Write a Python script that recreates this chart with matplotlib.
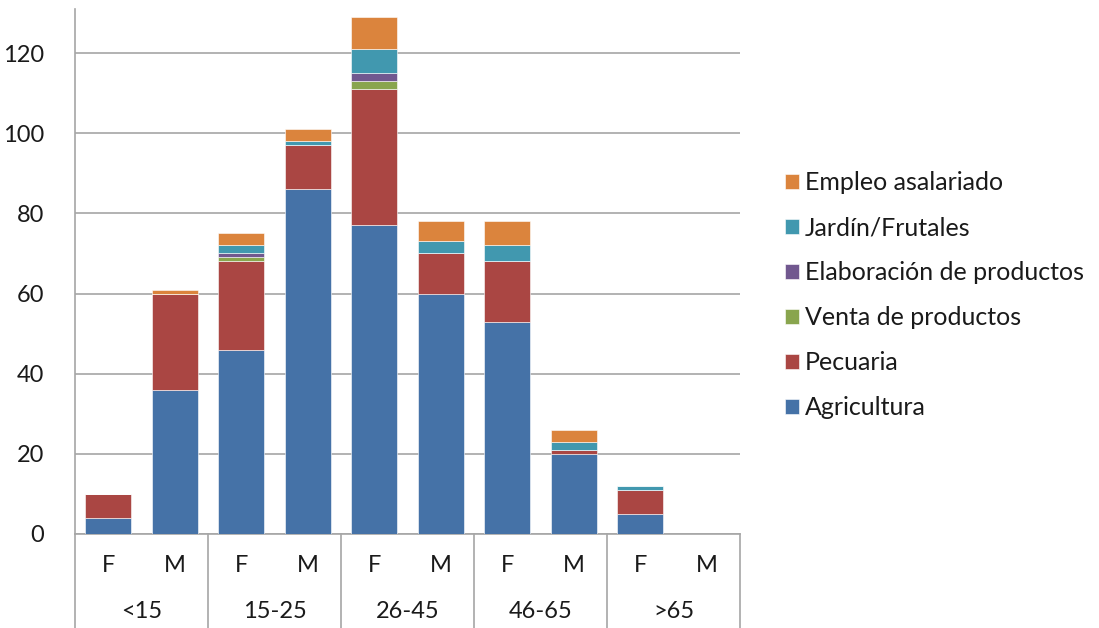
import matplotlib

matplotlib.use("Agg")
import matplotlib.pyplot as plt
import matplotlib.transforms as mtransforms
import numpy as np

plt.rcParams["font.family"] = ["Lato", "DejaVu Sans"]

groups = ["<15", "15-25", "26-45", "46-65", ">65"]
sexes = ["F", "M"]

# one value per bar: <15 F, <15 M, 15-25 F, 15-25 M, ... >65 F, >65 M
agricultura = [4, 36, 46, 86, 77, 60, 53, 20, 5, 0]
pecuaria = [6, 24, 22, 11, 34, 10, 15, 1, 6, 0]
venta = [0, 0, 1, 0, 2, 0, 0, 0, 0, 0]
elaboracion = [0, 0, 1, 0, 2, 0, 0, 0, 0, 0]
jardin = [0, 0, 2, 1, 6, 3, 4, 2, 1, 0]
empleo = [0, 1, 3, 3, 8, 5, 6, 3, 0, 0]

series = [
    ("Agricultura", agricultura, "#4572A7"),
    ("Pecuaria", pecuaria, "#AA4643"),
    ("Venta de productos", venta, "#89A54E"),
    ("Elaboración de productos", elaboracion, "#71588F"),
    ("Jardín/Frutales", jardin, "#4198AF"),
    ("Empleo asalariado", empleo, "#DB843D"),
]

FS = 17
TXT = "#1a1a1a"

fig = plt.figure(figsize=(10.99, 6.28), dpi=100)
ax = fig.add_axes([75 / 1099, 94 / 628, 665 / 1099, 525 / 628])

x = np.arange(len(agricultura))
bottom = np.zeros(len(x))
handles = []
for name, vals, col in series:
    vals = np.array(vals, dtype=float)
    h = ax.bar(x, vals, bottom=bottom, width=0.69, color=col,
               edgecolor="white", linewidth=0.4, label=name, zorder=3)
    handles.append(h)
    bottom += vals

ax.set_xlim(-0.5, len(x) - 0.5)
ax.set_ylim(0, 131)
ax.set_yticks(range(0, 121, 20))
ax.tick_params(axis="y", length=0, labelsize=FS, pad=22, colors=TXT)
ax.set_xticks([])
ax.grid(axis="y", color="#a6a6a6", linewidth=1.2, zorder=0)
for s in ("top", "right"):
    ax.spines[s].set_visible(False)
for s in ("left", "bottom"):
    ax.spines[s].set_color("#a6a6a6")
    ax.spines[s].set_linewidth(1.2)

# two-level category axis drawn below the plot
trans = mtransforms.blended_transform_factory(ax.transData, ax.transAxes)
ybot = -94 / 525
for k in range(len(groups) + 1):
    xv = -0.5 + 2 * k
    ax.plot([xv, xv], [0, ybot], transform=trans, color="#a6a6a6",
            linewidth=1.2, clip_on=False)
for i in x:
    ax.text(i, -32 / 525, sexes[i % 2], transform=trans, ha="center",
            va="center", fontsize=FS, color=TXT)
for g, name in enumerate(groups):
    ax.text(2 * g + 0.5, -78 / 525, name, transform=trans, ha="center",
            va="center", fontsize=FS, color=TXT)

leg = ax.legend(handles[::-1], [s[0] for s in series][::-1], loc="center left",
                bbox_to_anchor=(785 / 1099, 0.530), bbox_transform=fig.transFigure,
                frameon=False, fontsize=18, handlelength=0.55, handleheight=0.55,
                handletextpad=0.25, labelspacing=0.88, borderpad=0,
                borderaxespad=0)
for t in leg.get_texts():
    t.set_color(TXT)

fig.savefig("out.png", dpi=100)
